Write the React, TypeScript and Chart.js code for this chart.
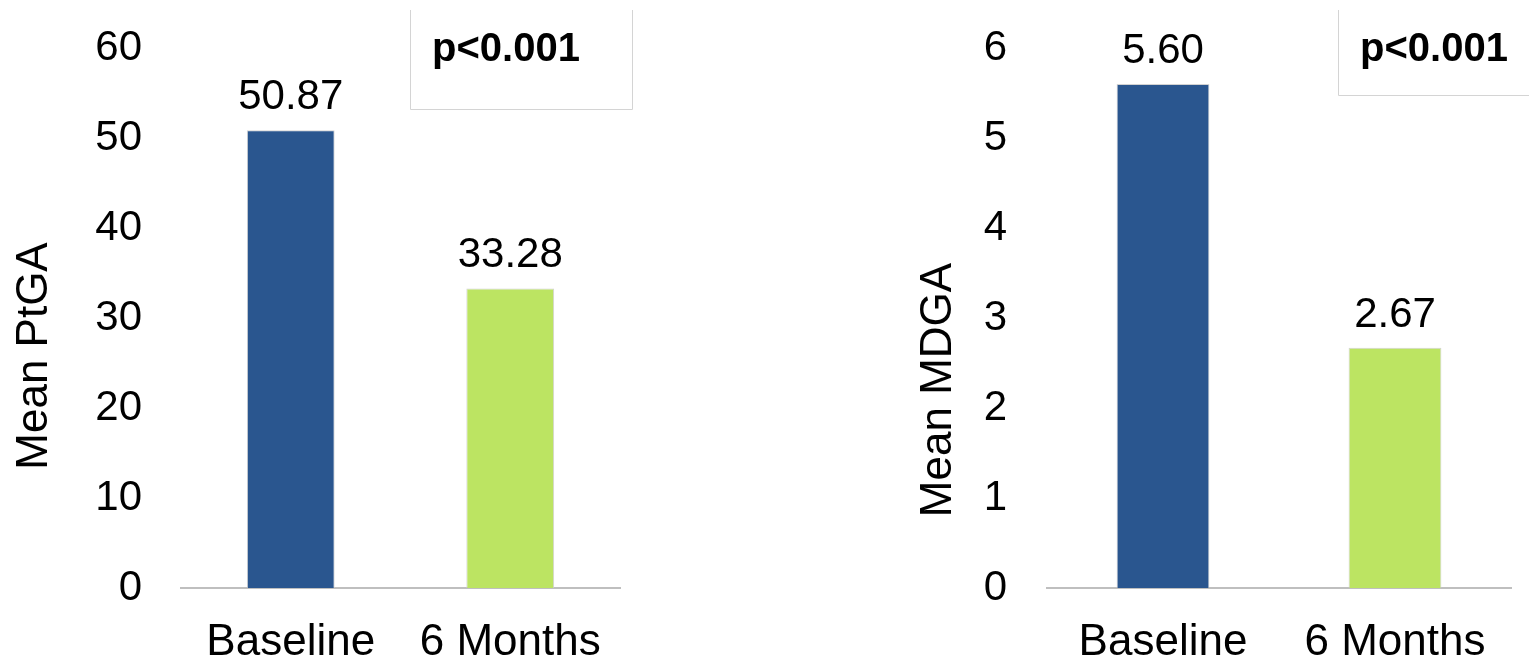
import React, { useEffect, useRef } from "react";
import { Chart, registerables } from "chart.js";

Chart.register(...registerables);

// ---- data ----
const categories = ["Baseline", "6 Months"];
const ptgaValues = [50.87, 33.28];
const mdgaValues = [5.6, 2.67];
const ptgaTickMax = 60;
const ptgaTickStep = 10;
const mdgaTickMax = 6;
const mdgaTickStep = 1;
const ptgaTitle = "Mean PtGA";
const mdgaTitle = "Mean MDGA";
const pValueText = "p<0.001";

// ---- styling ----
const FONT = '"Liberation Sans", Arial, Helvetica, sans-serif';
const barColors = ["#2a568f", "#bce462"];
const axisLineColor = "#bfbfbf";
const boxLineColor = "#d4d4d4";

type PanelLayout = {
  canvasLeft: number;
  canvasWidth: number;
  axisWidth: number; // width reserved left of the plot area
  paddingTop: number;
  paddingRight: number;
  tickPadding: number;
  titleX: number;
  titleY: number;
  box: { x0: number; x1: number; y0: number; y1: number };
};

// Draws the rotated axis title, the value labels above the bars and the
// significance box in the top-right corner.
const annotations = {
  id: "panelAnnotations",
  afterDatasetsDraw(chart: any, _args: any, opts: any) {
    const ctx = chart.ctx as CanvasRenderingContext2D;
    ctx.save();
    ctx.fillStyle = "#000";

    // value labels
    const meta = chart.getDatasetMeta(0);
    const values: number[] = chart.data.datasets[0].data as number[];
    ctx.font = `42px ${FONT}`;
    ctx.textAlign = "center";
    ctx.textBaseline = "alphabetic";
    meta.data.forEach((bar: any, i: number) => {
      ctx.fillText(values[i].toFixed(2), bar.x, bar.y - 21);
    });

    // rotated y-axis title
    ctx.save();
    ctx.translate(opts.titleX, opts.titleY);
    ctx.rotate(-Math.PI / 2);
    ctx.font = `44px ${FONT}`;
    ctx.textAlign = "center";
    ctx.textBaseline = "middle";
    ctx.fillText(opts.title, 0, 0);
    ctx.restore();

    // significance box (left, right and bottom edges)
    const b = opts.box;
    ctx.strokeStyle = boxLineColor;
    ctx.lineWidth = 1;
    ctx.beginPath();
    ctx.moveTo(b.x0 + 0.5, b.y0);
    ctx.lineTo(b.x0 + 0.5, b.y1 + 0.5);
    ctx.lineTo(b.x1 + 0.5, b.y1 + 0.5);
    ctx.lineTo(b.x1 + 0.5, b.y0);
    ctx.stroke();

    ctx.font = `bold 40px ${FONT}`;
    ctx.textAlign = "left";
    ctx.textBaseline = "alphabetic";
    ctx.fillText(opts.pText, b.x0 + 22, 61);
    ctx.restore();
  },
};

function BarPanel(props: {
  values: number[];
  max: number;
  step: number;
  title: string;
  layout: PanelLayout;
}) {
  const ref = useRef<HTMLCanvasElement | null>(null);
  const { values, max, step, title, layout } = props;

  useEffect(() => {
    if (!ref.current) return;
    const chart = new Chart(ref.current, {
      type: "bar",
      data: {
        labels: categories,
        datasets: [
          {
            data: values,
            backgroundColor: barColors,
            borderColor: "rgba(205,205,205,0.9)",
            borderWidth: 1,
            categoryPercentage: 1,
            barPercentage: 0.4,
          },
        ],
      },
      options: {
        animation: false,
        responsive: false,
        devicePixelRatio: 1,
        layout: {
          padding: {
            left: 0,
            top: layout.paddingTop,
            right: layout.paddingRight,
            bottom: 0,
          },
        },
        plugins: {
          legend: { display: false },
          tooltip: { enabled: false },
          panelAnnotations: {
            title,
            titleX: layout.titleX,
            titleY: layout.titleY,
            box: layout.box,
            pText: pValueText,
          },
        } as any,
        scales: {
          x: {
            grid: { display: false, drawTicks: false },
            border: { display: true, color: axisLineColor, width: 2 },
            ticks: {
              color: "#000",
              padding: 28,
              font: { family: FONT, size: 44 },
              maxRotation: 0,
            },
            afterFit: (scale: any) => {
              scale.height = 73;
            },
          },
          y: {
            min: 0,
            max,
            grid: { display: false, drawTicks: false },
            border: { display: false },
            ticks: {
              stepSize: step,
              color: "#000",
              padding: layout.tickPadding,
              font: { family: FONT, size: 42 },
            },
            afterFit: (scale: any) => {
              scale.width = layout.axisWidth;
              // the plot area edges come from the layout padding alone
              scale.paddingTop = 0;
              scale.paddingBottom = 0;
            },
          },
        },
      },
      plugins: [annotations],
    });
    return () => chart.destroy();
  }, [values, max, step, title, layout]);

  return (
    <canvas
      ref={ref}
      width={layout.canvasWidth}
      height={661}
      style={{
        position: "absolute",
        left: layout.canvasLeft,
        top: 0,
        width: layout.canvasWidth,
        height: 661,
      }}
    />
  );
}

const leftLayout: PanelLayout = {
  canvasLeft: 0,
  canvasWidth: 760,
  axisWidth: 181,
  paddingTop: 48,
  paddingRight: 140,
  tickPadding: 39,
  titleX: 35,
  titleY: 356,
  box: { x0: 410, x1: 632, y0: 10, y1: 109 },
};

const rightLayout: PanelLayout = {
  canvasLeft: 760,
  canvasWidth: 769,
  axisWidth: 287,
  paddingTop: 48,
  paddingRight: 18,
  tickPadding: 40,
  titleX: 179,
  titleY: 390,
  box: { x0: 578, x1: 790, y0: 10, y1: 95 },
};

export default function App() {
  return (
    <div
      style={{
        position: "fixed",
        left: 0,
        top: 0,
        width: 1529,
        height: 661,
        background: "#fff",
        overflow: "hidden",
      }}
    >
      <BarPanel
        values={ptgaValues}
        max={ptgaTickMax}
        step={ptgaTickStep}
        title={ptgaTitle}
        layout={leftLayout}
      />
      <BarPanel
        values={mdgaValues}
        max={mdgaTickMax}
        step={mdgaTickStep}
        title={mdgaTitle}
        layout={rightLayout}
      />
    </div>
  );
}
